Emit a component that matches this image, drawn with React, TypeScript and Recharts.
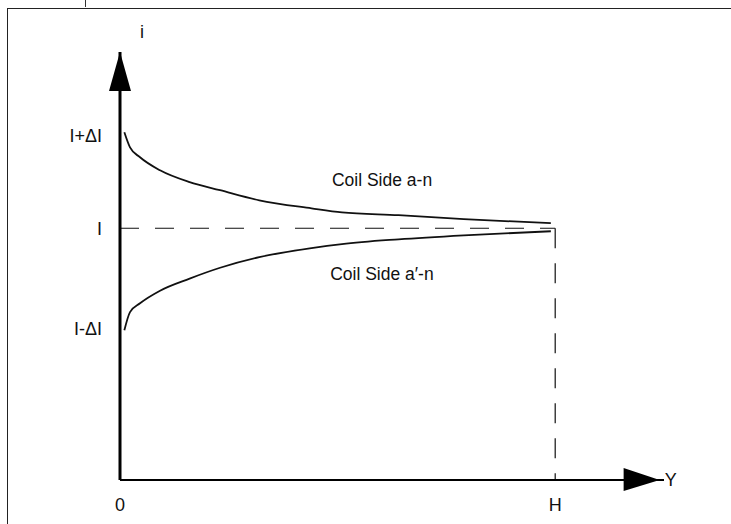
import React from 'react';
import { ComposedChart, Line, XAxis, YAxis, ReferenceLine, ReferenceDot } from 'recharts';

// position along slot depth, in % of H
const positions = [1, 2.3, 4.6, 9.2, 16, 23, 32, 44, 51, 64, 79, 99];
// current in coil side a-n (units of I)
const coilSideAN = [1.381, 1.321, 1.282, 1.23, 1.183, 1.151, 1.111, 1.079, 1.063, 1.052, 1.036, 1.02];
// current in coil side a'-n (units of I)
const coilSideApN = [0.595, 0.667, 0.702, 0.752, 0.8, 0.843, 0.885, 0.921, 0.937, 0.956, 0.972, 0.988];

const yTickValues = [0.603, 1, 1.369];
const yTickLabels = ['I-ΔI', 'I', 'I+ΔI'];
const xTickValues = [0, 100];
const xTickLabels = ['0', 'H'];

const X_MAX = 125;
const Y_MAX = 1.7;
const X_ARROW = 124;
const H = 100;
const I = 1;

const data = positions.map((p, i) => ({ p, an: coilSideAN[i], apn: coilSideApN[i] }));

const FONT = '"Liberation Sans", Arial, sans-serif';

const YArrow = (props: any) => {
  const { cx, cy } = props;
  return (
    <g>
      <polygon points={`${cx},${cy} ${cx - 11},${cy + 39} ${cx + 11},${cy + 39}`} fill="#000" />
      <text x={cx + 22} y={cy - 14} fontSize={18} fontFamily={FONT} textAnchor="middle" fill="#111">i</text>
    </g>
  );
};

const XArrow = (props: any) => {
  const { cx, cy } = props;
  return (
    <g>
      <polygon points={`${cx},${cy} ${cx - 36},${cy - 12} ${cx - 36},${cy + 11}`} fill="#000" />
      <text x={cx + 5} y={cy + 6} fontSize={18} fontFamily={FONT} textAnchor="start" fill="#111">Y</text>
    </g>
  );
};

const makeLabel = (text: string) => (props: any) => (
  <text x={props.cx} y={props.cy} fontSize={17.5} fontFamily={FONT} textAnchor="start" fill="#111">{text}</text>
);

export default function App() {
  return (
    <div style={{ position: 'fixed', left: 0, top: 0, width: 731, height: 524, overflow: 'hidden', background: '#fff' }}>
      <div style={{ position: 'absolute', left: 85, top: 0, width: 1, height: 7, background: '#333' }} />
      <div style={{ position: 'absolute', left: 7, top: 8, width: 724, height: 516, borderLeft: '1px solid #222', borderTop: '1px solid #222', boxSizing: 'border-box' }}>
        <ComposedChart width={723} height={515} data={data} margin={{ top: 43, right: 67, left: 0, bottom: 0 }} style={{ fontFamily: FONT }}>
          <XAxis
            dataKey="p"
            type="number"
            domain={[0, X_MAX]}
            ticks={xTickValues}
            tickFormatter={(v: number) => xTickLabels[xTickValues.indexOf(v)]}
            axisLine={{ stroke: '#000', strokeWidth: 2 }}
            tickLine={false}
            tickSize={0}
            tickMargin={18}
            height={44}
            tick={{ fill: '#111', fontSize: 18, fontFamily: FONT }}
            allowDataOverflow
          />
          <YAxis
            type="number"
            domain={[0, Y_MAX]}
            ticks={yTickValues}
            tickFormatter={(v: number) => yTickLabels[yTickValues.indexOf(v)]}
            axisLine={{ stroke: '#000', strokeWidth: 3 }}
            tickLine={false}
            tickSize={0}
            tickMargin={18}
            width={112}
            tick={{ fill: '#111', fontSize: 18, fontFamily: FONT }}
            allowDataOverflow
          />
          <ReferenceLine segment={[{ x: 0, y: I }, { x: H, y: I }]} stroke="#111" strokeWidth={1.2} strokeDasharray="19 16" ifOverflow="visible" />
          <ReferenceLine segment={[{ x: H, y: I }, { x: H, y: 0 }]} stroke="#111" strokeWidth={1.2} strokeDasharray="20 15" ifOverflow="visible" />
          <Line dataKey="an" type="monotone" stroke="#111" strokeWidth={1.8} dot={false} isAnimationActive={false} />
          <Line dataKey="apn" type="monotone" stroke="#111" strokeWidth={1.8} dot={false} isAnimationActive={false} />
          <ReferenceDot x={0} y={Y_MAX} ifOverflow="visible" shape={YArrow} />
          <ReferenceDot x={X_ARROW} y={0} ifOverflow="visible" shape={XArrow} />
          <ReferenceDot x={48.7} y={1.167} ifOverflow="visible" shape={makeLabel('Coil Side a-n')} />
          <ReferenceDot x={48.3} y={0.794} ifOverflow="visible" shape={makeLabel('Coil Side a′-n')} />
        </ComposedChart>
      </div>
    </div>
  );
}
